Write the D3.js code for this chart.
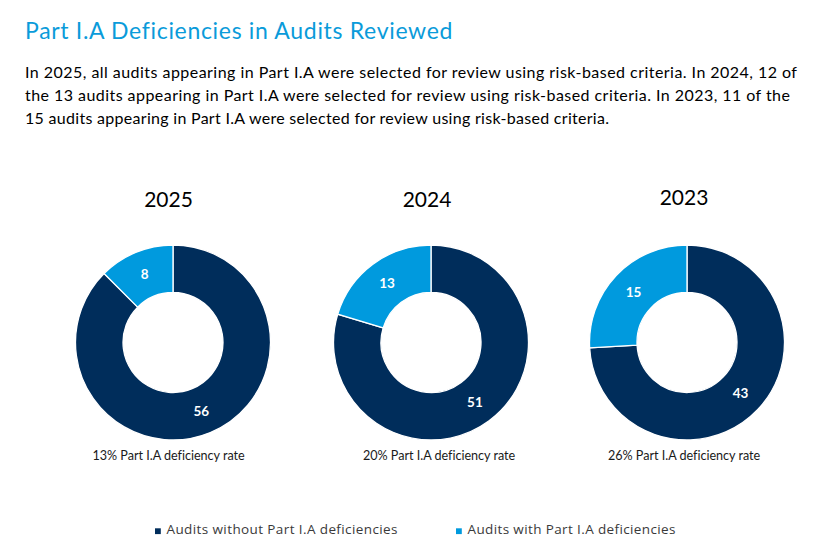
<!DOCTYPE html>
<html>
<head>
<meta charset="utf-8">
<script src="https://cdn.jsdelivr.net/npm/d3@7"></script>
<style>
  html, body { margin: 0; padding: 0; background: #fff; }
  svg { display: block; }
</style>
</head>
<body>
<svg id="chart" width="832" height="553"></svg>
<script>
// ---- Data ----
const years = ["2025", "2024", "2023"];
const withoutDeficiencies = [56, 51, 43];
const withDeficiencies = [8, 13, 15];
const rateLabels = ["13%", "20%", "26%"];
const seriesNames = ["Audits without Part I.A deficiencies", "Audits with Part I.A deficiencies"];
const titleText = "Part I.A Deficiencies in Audits Reviewed";
const bodyLines = [
  "In 2025, all audits appearing in Part I.A were selected for review using risk-based criteria. In 2024, 12 of",
  "the 13 audits appearing in Part I.A were selected for review using risk-based criteria. In 2023, 11 of the",
  "15 audits appearing in Part I.A were selected for review using risk-based criteria."
];

// ---- Layout / style ----
const colors = ["#002D5B", "#009ADE"];
const mainFont = "Lato, 'Open Sans', sans-serif";
const legendFont = "'Open Sans', 'Noto Sans', sans-serif";
const donutCx = [173, 431, 687];
const donutCy = 342.5;
const yearX = [168.5, 427, 684];
const captionX = [168.5, 439, 684];
const outerR = 97.5, innerR = 50;

const svg = d3.select("#chart");

// keep the font size, adjust letter spacing so the line spans the target width
function fitSpacing(sel, target) {
  const node = sel.node();
  const w = node.getComputedTextLength();
  const n = sel.text().length;
  if (w > 0 && n > 1) sel.attr("letter-spacing", ((target - w) / (n - 1)).toFixed(3));
  return sel;
}

// Title
fitSpacing(svg.append("text")
  .attr("x", 25).attr("y", 39)
  .attr("font-family", mainFont).attr("font-size", 23)
  .attr("fill", "#0A9BDA")
  .text(titleText), 427);

// Body text
const bodyTargets = [772, 765, 584];
bodyLines.forEach((line, i) => {
  fitSpacing(svg.append("text")
    .attr("x", 25).attr("y", 77.7 + i * 23.2)
    .attr("font-family", mainFont).attr("font-size", 16)
    .attr("fill", "#000")
    .text(line), bodyTargets[i]);
});

// Donuts
const pie = d3.pie().sort(null).value(d => d.value);
const arc = d3.arc().innerRadius(innerR).outerRadius(outerR);

years.forEach((yr, i) => {
  const data = [
    { key: seriesNames[0], value: withoutDeficiencies[i] },
    { key: seriesNames[1], value: withDeficiencies[i] }
  ];
  const arcs = pie(data);
  const g = svg.append("g").attr("transform", `translate(${donutCx[i]},${donutCy})`);
  g.selectAll("path").data(arcs).join("path")
    .attr("d", arc)
    .attr("fill", (d, j) => colors[j])
    .attr("stroke", "#fff")
    .attr("stroke-width", 1.3);
  g.selectAll("text.lbl").data(arcs).join("text")
    .attr("class", "lbl")
    .attr("transform", d => `translate(${arc.centroid(d)})`)
    .attr("text-anchor", "middle")
    .attr("dy", "0.36em")
    .attr("font-family", mainFont)
    .attr("font-weight", "bold")
    .attr("font-size", 13.5)
    .attr("fill", "#fff")
    .text(d => d.data.value);

  // Year title
  svg.append("text")
    .attr("x", yearX[i]).attr("y", i === 2 ? 205 : 206.5)
    .attr("text-anchor", "middle")
    .attr("font-family", mainFont).attr("font-size", 21)
    .attr("fill", "#000")
    .text(yr);

  // Caption
  const ct = svg.append("text")
    .attr("x", captionX[i] - 76).attr("y", 460)
    .attr("font-family", mainFont).attr("font-size", 12.6)
    .attr("fill", "#1a1a1a")
    .text(`${rateLabels[i]} Part I.A deficiency rate`);
  fitSpacing(ct, 152);
});

// Legend
const legendX = [155, 456];
const legendTargets = [231, 208];
seriesNames.forEach((name, i) => {
  svg.append("rect")
    .attr("x", legendX[i]).attr("y", 528.3)
    .attr("width", 5.8).attr("height", 5.8)
    .attr("fill", colors[i]);
  fitSpacing(svg.append("text")
    .attr("x", legendX[i] + 11.5).attr("y", 534.3)
    .attr("font-family", legendFont).attr("font-size", 13.5)
    .attr("fill", "#3a3a3a")
    .text(name), legendTargets[i]);
});
</script>
</body>
</html>
